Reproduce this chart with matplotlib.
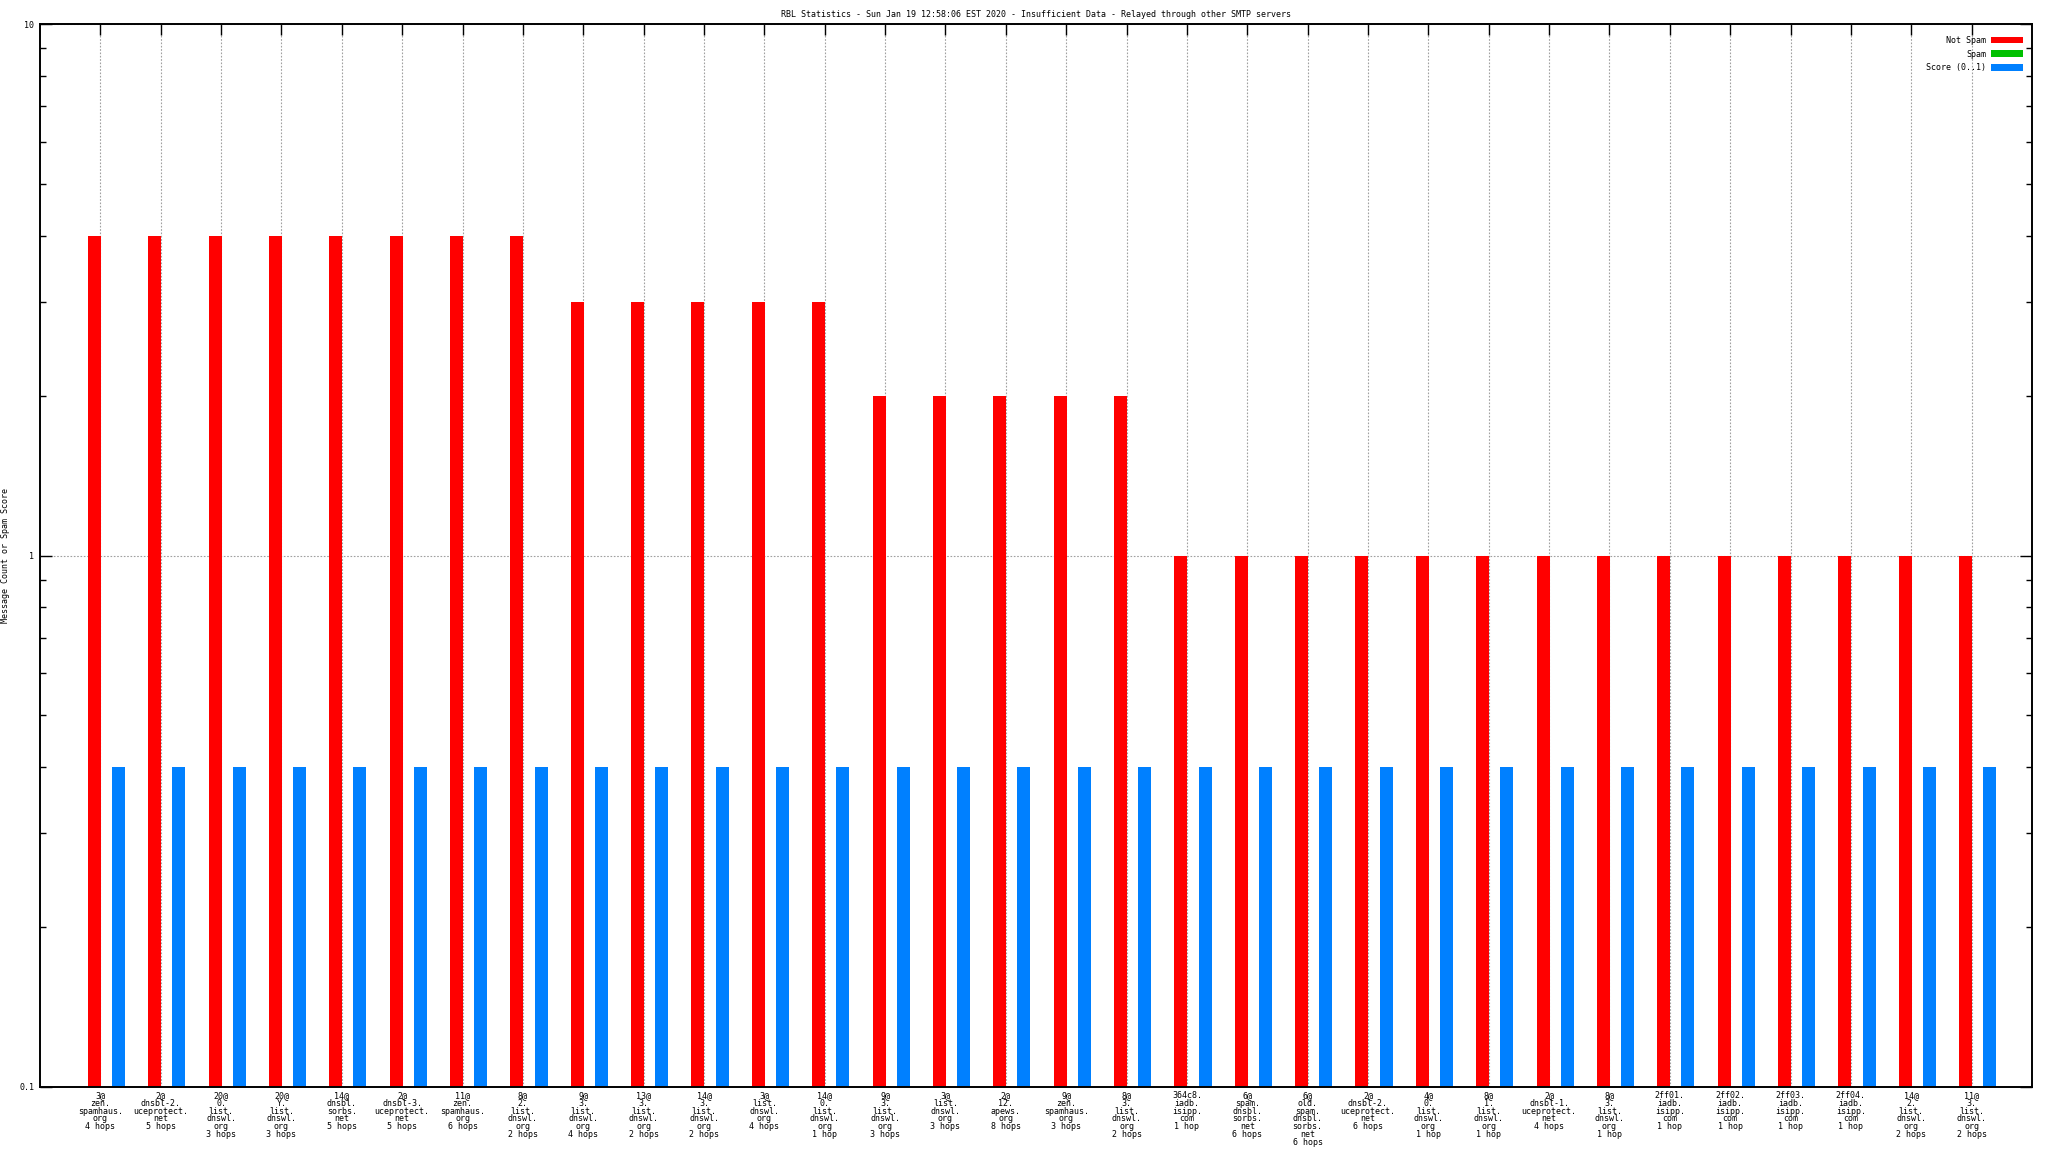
"""RBL statistics bar chart: message counts / spam score per RBL lookup."""

import matplotlib
matplotlib.use("Agg")
import matplotlib.pyplot as plt
import numpy as np
from matplotlib.ticker import FixedLocator, FuncFormatter, LogLocator, NullFormatter

TITLE = ("RBL Statistics - Sun Jan 19 12:58:06 EST 2020 - Insufficient Data - "
         "Relayed through other SMTP servers")

lookups = [
    "3@\nzen.\nspamhaus.\norg\n4 hops",
    "2@\ndnsbl-2.\nuceprotect.\nnet\n5 hops",
    "20@\n0.\nlist.\ndnswl.\norg\n3 hops",
    "20@\nY.\nlist.\ndnswl.\norg\n3 hops",
    "14@\ndnsbl.\nsorbs.\nnet\n5 hops",
    "2@\ndnsbl-3.\nuceprotect.\nnet\n5 hops",
    "11@\nzen.\nspamhaus.\norg\n6 hops",
    "8@\n2.\nlist.\ndnswl.\norg\n2 hops",
    "9@\n3.\nlist.\ndnswl.\norg\n4 hops",
    "13@\n3.\nlist.\ndnswl.\norg\n2 hops",
    "14@\n3.\nlist.\ndnswl.\norg\n2 hops",
    "3@\nlist.\ndnswl.\norg\n4 hops",
    "14@\n0.\nlist.\ndnswl.\norg\n1 hop",
    "9@\n3.\nlist.\ndnswl.\norg\n3 hops",
    "3@\nlist.\ndnswl.\norg\n3 hops",
    "2@\n12.\napews.\norg\n8 hops",
    "9@\nzen.\nspamhaus.\norg\n3 hops",
    "8@\n3.\nlist.\ndnswl.\norg\n2 hops",
    "364c8.\niadb.\nisipp.\ncom\n1 hop",
    "6@\nspam.\ndnsbl.\nsorbs.\nnet\n6 hops",
    "6@\nold.\nspam.\ndnsbl.\nsorbs.\nnet\n6 hops",
    "2@\ndnsbl-2.\nuceprotect.\nnet\n6 hops",
    "4@\n0.\nlist.\ndnswl.\norg\n1 hop",
    "8@\n1.\nlist.\ndnswl.\norg\n1 hop",
    "2@\ndnsbl-1.\nuceprotect.\nnet\n4 hops",
    "8@\n3.\nlist.\ndnswl.\norg\n1 hop",
    "2ff01.\niadb.\nisipp.\ncom\n1 hop",
    "2ff02.\niadb.\nisipp.\ncom\n1 hop",
    "2ff03.\niadb.\nisipp.\ncom\n1 hop",
    "2ff04.\niadb.\nisipp.\ncom\n1 hop",
    "14@\n2.\nlist.\ndnswl.\norg\n2 hops",
    "11@\n3.\nlist.\ndnswl.\norg\n2 hops",
]

not_spam = [4, 4, 4, 4, 4, 4, 4, 4,
            3, 3, 3, 3, 3,
            2, 2, 2, 2, 2,
            1, 1, 1, 1, 1, 1, 1, 1, 1, 1, 1, 1, 1, 1]
spam = [0] * 32
score = [0.4] * 32

FONT = "DejaVu Sans Mono"
FS = 6

plt.rcParams["font.family"] = FONT
plt.rcParams["font.size"] = FS

fig = plt.figure(figsize=(20.48, 11.52), dpi=100, facecolor="white")
W, H = 2048, 1152
L, R, T, B = 40, 2032, 24, 1087
ax = fig.add_axes([L / W, 1 - B / H, (R - L) / W, (B - T) / H])

x = np.arange(len(lookups))
bw = 0.215
ax.bar(x - 0.1, not_spam, bw, color="#ff0000", label="Not Spam", zorder=2)
ax.bar(x + 0.1, spam, bw, color="#00c000", label="Spam", zorder=2)
ax.bar(x + 0.3, score, bw, color="#0080ff", label="Score (0..1)", zorder=2)

ax.set_yscale("log")
ax.set_ylim(0.1, 10)
ax.set_xlim(-1, 32)

ax.xaxis.set_major_locator(FixedLocator(x))
ax.set_xticklabels(lookups, linespacing=0.82, fontsize=FS)
ax.yaxis.set_major_locator(LogLocator(base=10))
ax.yaxis.set_minor_locator(LogLocator(base=10, subs=np.arange(2, 10)))
ax.yaxis.set_major_formatter(FuncFormatter(lambda v, p: f"{v:g}"))
ax.yaxis.set_minor_formatter(NullFormatter())

ax.tick_params(axis="x", which="major", direction="in", bottom=False, top=True,
               labelbottom=True, length=8, width=1.0, pad=3)
ax.tick_params(axis="y", which="major", direction="in", left=True, right=True,
               length=8.6, width=1.0, pad=4.3)
ax.tick_params(axis="y", which="minor", direction="in", left=True, right=True,
               length=4.3, width=1.0)
for sp in ax.spines.values():
    sp.set_linewidth(1.4)

ax.grid(True, axis="x", which="major", color="#a0a0a0", linestyle=(0, (1.5, 1.5)),
        linewidth=0.8, zorder=0)
ax.grid(True, axis="y", which="major", color="#a0a0a0", linestyle=(0, (1.5, 1.5)),
        linewidth=0.8, zorder=0)
ax.set_axisbelow(True)

ax.set_title(TITLE, fontsize=FS, pad=5)
ax.set_ylabel("Message Count or Spam Score", fontsize=FS)
ax.yaxis.set_label_coords((10 - L) / (R - L), 0.5)

ax.legend(loc="upper right", bbox_to_anchor=(1 - 9 / (R - L), 1 - 12 / (B - T)),
          frameon=False, markerfirst=False, borderaxespad=0, borderpad=0,
          handlelength=3.85, handleheight=0.85, handletextpad=0.6,
          labelspacing=0.55, fontsize=FS)

fig.savefig("out.png", dpi=100, facecolor="white")
